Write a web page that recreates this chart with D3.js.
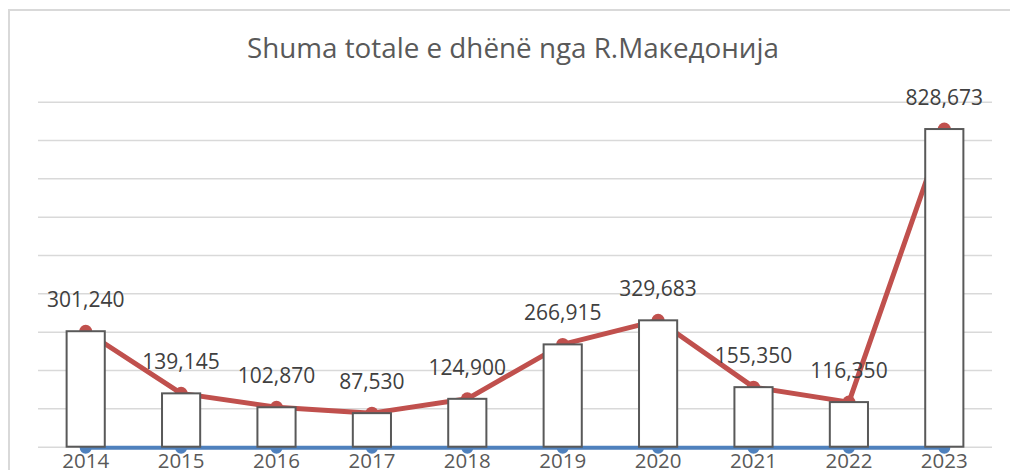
<!DOCTYPE html>
<html>
<head>
<meta charset="utf-8">
<script src="https://cdn.jsdelivr.net/npm/d3@7"></script>
<style>
  body { margin: 0; background: #fff; }
  svg { display: block; font-family: "Open Sans", "Noto Sans", sans-serif; }
</style>
</head>
<body>
<div id="chart"></div>
<script>
const years = ["2014", "2015", "2016", "2017", "2018", "2019", "2020", "2021", "2022", "2023"];
const totals = [301240, 139145, 102870, 87530, 124900, 266915, 329683, 155350, 116350, 828673];
const zeros = [0, 0, 0, 0, 0, 0, 0, 0, 0, 0];
const yTicks = [0, 100000, 200000, 300000, 400000, 500000, 600000, 700000, 800000, 900000];
const title = "Shuma totale e dhënë nga R.Македонија";

const W = 1010, H = 470;
const plot = { left: 38, right: 992, top: 101.7, bottom: 446.7 };

const svg = d3.select("#chart").append("svg")
    .attr("width", W)
    .attr("height", H);

// chart frame (only left/top edges are inside the picture)
svg.append("path")
    .attr("d", `M9,${H} L9,10 L${W},10`)
    .attr("fill", "none")
    .attr("stroke", "#d9d9d9")
    .attr("stroke-width", 2);

const x = d3.scaleBand()
    .domain(years)
    .range([plot.left, plot.right])
    .paddingInner(0.6)
    .paddingOuter(0.3);

const y = d3.scaleLinear()
    .domain([0, 900000])
    .range([plot.bottom, plot.top]);

const cx = d => x(d) + x.bandwidth() / 2;

// Grid lines
const grid = svg.append("g")
    .attr("transform", `translate(${plot.left},0)`)
    .call(d3.axisLeft(y).tickValues(yTicks).tickSize(-(plot.right - plot.left)).tickFormat(""));
grid.select(".domain").remove();
grid.selectAll("line").attr("stroke", "#d9d9d9").attr("stroke-width", 1.5);

// Red line
const pts = years.map((yr, i) => ({ yr, v: totals[i] }));
svg.append("path")
    .datum(pts)
    .attr("fill", "none")
    .attr("stroke", "#c0504d")
    .attr("stroke-width", 5)
    .attr("stroke-linejoin", "round")
    .attr("d", d3.line().x(d => cx(d.yr)).y(d => y(d.v)));

svg.selectAll(".red-dot")
    .data(pts)
    .enter().append("circle")
    .attr("class", "red-dot")
    .attr("cx", d => cx(d.yr))
    .attr("cy", d => y(d.v))
    .attr("r", 6.5)
    .attr("fill", "#c0504d");

// Blue line (zero series)
const zpts = years.map((yr, i) => ({ yr, v: zeros[i] }));
svg.append("path")
    .datum(zpts)
    .attr("fill", "none")
    .attr("stroke", "#4f81bd")
    .attr("stroke-width", 4)
    .attr("d", d3.line().x(d => cx(d.yr)).y(d => y(d.v) + 1));

svg.selectAll(".blue-dot")
    .data(zpts)
    .enter().append("circle")
    .attr("class", "blue-dot")
    .attr("cx", d => cx(d.yr))
    .attr("cy", d => y(d.v) + 1)
    .attr("r", 6)
    .attr("fill", "#4f81bd");

// Bars
svg.selectAll(".bar")
    .data(pts)
    .enter().append("rect")
    .attr("class", "bar")
    .attr("x", d => x(d.yr))
    .attr("y", d => y(d.v))
    .attr("width", x.bandwidth())
    .attr("height", d => y(0) - y(d.v))
    .attr("fill", "#fff")
    .attr("stroke", "#595959")
    .attr("stroke-width", 2);

// Data labels
svg.selectAll(".val")
    .data(pts)
    .enter().append("text")
    .attr("class", "val")
    .attr("x", d => cx(d.yr))
    .attr("y", d => y(d.v) - 24)
    .attr("text-anchor", "middle")
    .style("font-size", "21px")
    .style("fill", "#404040")
    .text(d => d3.format(",")(d.v));

// X axis labels
const xAxis = svg.append("g")
    .attr("transform", `translate(0,${plot.bottom})`)
    .call(d3.axisBottom(x).tickSize(0).tickPadding(0));
xAxis.select(".domain").remove();
xAxis.selectAll("text")
    .attr("dy", 0)
    .attr("y", 21)
    .style("font-family", "'Open Sans', sans-serif")
    .style("font-size", "20.5px")
    .style("fill", "#595959");

// Title
svg.append("text")
    .attr("x", 513)
    .attr("y", 58)
    .attr("text-anchor", "middle")
    .style("font-size", "27.8px")
    .style("fill", "#595959")
    .text(title);
</script>
</body>
</html>
